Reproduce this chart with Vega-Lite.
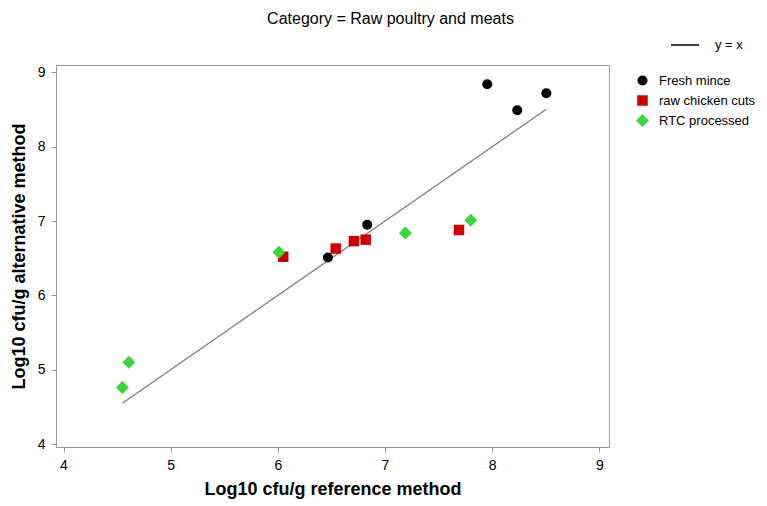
{
  "$schema": "https://vega.github.io/schema/vega-lite/v6.json",
  "width": 553,
  "height": 382,
  "autosize": "none",
  "padding": {"left": 56, "top": 65, "right": 158, "bottom": 59},
  "background": "white",
  "title": {"text": "Category = Raw poultry and meats", "font": "Liberation Sans", "fontSize": 16, "fontWeight": "normal", "color": "black", "anchor": "middle", "frame": "group", "dx": 58, "offset": 3},
  "config": {
    "view": {"stroke": "#999999", "strokeWidth": 1},
    "axis": {"grid": false, "domainColor": "#999999", "tickColor": "#999999", "tickSize": 5, "labelFont": "Liberation Sans", "labelFontSize": 14, "labelColor": "black", "titleFont": "Liberation Sans", "titleFontSize": 18, "titleFontWeight": "bold", "titleColor": "black"},
    "legend": {"labelFont": "Liberation Sans", "labelFontSize": 13, "labelColor": "black", "padding": 0}
  },
  "datasets": {
    "ref": [
      {"x": 4.55, "y": 4.55, "ref": "y = x"},
      {"x": 8.505, "y": 8.505, "ref": "y = x"}
    ],
    "pts": [
      {"x": 7.954, "y": 8.84, "group": "Fresh mince"},
      {"x": 8.234, "y": 8.49, "group": "Fresh mince"},
      {"x": 8.505, "y": 8.72, "group": "Fresh mince"},
      {"x": 6.834, "y": 6.95, "group": "Fresh mince"},
      {"x": 6.467, "y": 6.51, "group": "Fresh mince"},
      {"x": 6.05, "y": 6.52, "group": "raw chicken cuts"},
      {"x": 6.54, "y": 6.63, "group": "raw chicken cuts"},
      {"x": 6.71, "y": 6.73, "group": "raw chicken cuts"},
      {"x": 6.82, "y": 6.75, "group": "raw chicken cuts"},
      {"x": 7.69, "y": 6.88, "group": "raw chicken cuts"},
      {"x": 6.01, "y": 6.58, "group": "RTC processed"},
      {"x": 4.61, "y": 5.10, "group": "RTC processed"},
      {"x": 4.55, "y": 4.76, "group": "RTC processed"},
      {"x": 7.19, "y": 6.84, "group": "RTC processed"},
      {"x": 7.80, "y": 7.01, "group": "RTC processed"}
    ]
  },
  "layer": [
    {
      "data": {"name": "ref"},
      "mark": {"type": "line", "strokeWidth": 1.3, "color": "#808080"},
      "encoding": {
        "x": {"field": "x", "type": "quantitative", "scale": {"domain": [3.93, 9.09], "nice": false, "zero": false}, "axis": {"values": [4, 5, 6, 7, 8, 9], "format": "d", "title": "Log10 cfu/g reference method", "labelPadding": 6, "titlePadding": 8}},
        "y": {"field": "y", "type": "quantitative", "scale": {"domain": [3.96, 9.1], "nice": false, "zero": false}, "axis": {"values": [4, 5, 6, 7, 8, 9], "format": "d", "title": "Log10 cfu/g alternative method", "labelPadding": 6, "titlePadding": 9}},
        "strokeDash": {"field": "ref", "type": "nominal", "scale": {"range": [[1, 0]]}, "legend": {"title": null, "orient": "none", "legendX": 614, "legendY": -35, "symbolType": "stroke", "symbolSize": 784, "symbolStrokeWidth": 1.3, "symbolStrokeColor": "black", "labelOffset": 15, "encode": {"symbols": {"update": {"stroke": {"value": "black"}}}}}}
      }
    },
    {
      "data": {"name": "pts"},
      "mark": {"type": "point", "filled": true, "opacity": 1, "size": 100},
      "encoding": {
        "x": {"field": "x", "type": "quantitative"},
        "y": {"field": "y", "type": "quantitative"},
        "color": {"field": "group", "type": "nominal", "scale": {"domain": ["Fresh mince", "raw chicken cuts", "RTC processed"], "range": ["black", "#cc0000", "#3fd43f"]}, "legend": {"title": null, "orient": "none", "legendX": 580, "legendY": 9, "labelOffset": 10, "rowPadding": 6, "symbolSize": 100}},
        "shape": {"field": "group", "type": "nominal", "scale": {"domain": ["Fresh mince", "raw chicken cuts", "RTC processed"], "range": ["circle", "M-1.05,-1.05H1.05V1.05H-1.05Z", "M-1.3,0L0,-1.3L1.3,0L0,1.3Z"]}, "legend": {"title": null}}
      }
    }
  ]
}
